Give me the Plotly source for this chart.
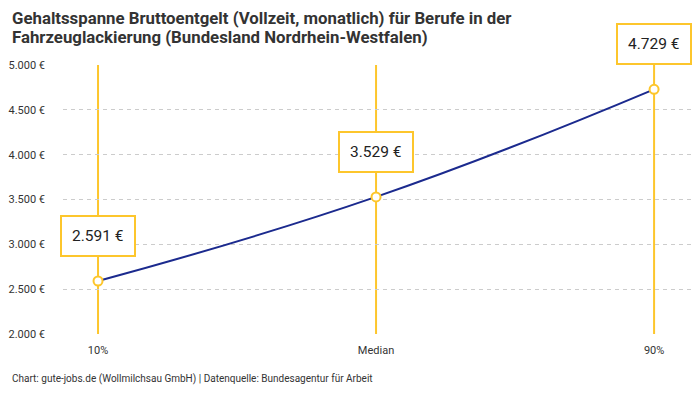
import plotly.graph_objects as go

# Daten
kategorien = ["10%", "Median", "90%"]
gehalt = [2591, 3529, 4729]
beschriftung = ["2.591 €", "3.529 €", "4.729 €"]
y_ticks = [2000, 2500, 3000, 3500, 4000, 4500, 5000]
y_tick_text = ["2.000 €", "2.500 €", "3.000 €", "3.500 €", "4.000 €", "4.500 €", "5.000 €"]

titel_zeilen = ["Gehaltsspanne Bruttoentgelt (Vollzeit, monatlich) für Berufe in der",
                "Fahrzeuglackierung (Bundesland Nordrhein-Westfalen)"]
quelle = "Chart: gute-jobs.de (Wollmilchsau GmbH) | Datenquelle: Bundesagentur für Arbeit"

gelb = "#FDC62C"
blau = "#1B2A8E"
x_pos = list(range(len(kategorien)))

fig = go.Figure()

# senkrechte Linien je Kategorie
for x in x_pos:
    fig.add_shape(type="line", x0=x, x1=x, y0=2000, y1=5000, xref="x", yref="y",
                  line=dict(color=gelb, width=2), layer="below")

fig.add_trace(go.Scatter(
    x=x_pos, y=gehalt, mode="lines",
    line=dict(color=blau, width=2, shape="spline", smoothing=1.3),
    hoverinfo="skip", showlegend=False,
))
fig.add_trace(go.Scatter(
    x=x_pos, y=gehalt, mode="markers",
    marker=dict(size=9, color="white", line=dict(color=gelb, width=2)),
    showlegend=False,
))

# Wert-Boxen über den Punkten
for x, y, t in zip(x_pos, gehalt, beschriftung):
    fig.add_annotation(x=x, y=y, text=t, showarrow=False, yshift=45,
                       font=dict(family="Roboto", size=15.5, color="#222"),
                       bgcolor="white", bordercolor=gelb, borderwidth=2, borderpad=10)

# Titel zeilenweise, damit der Zeilenabstand enger wird
for i, zeile in enumerate(titel_zeilen):
    fig.add_annotation(x=0, y=1, xref="paper", yref="paper", xanchor="left", yanchor="top",
                       xshift=-53, yshift=59 - i * 19, showarrow=False, align="left",
                       text="<b>" + zeile + "</b>",
                       font=dict(family="Roboto", size=16.8, color="#333"))

fig.add_annotation(x=0, y=0, xref="paper", yref="paper", xanchor="left", yanchor="top",
                   xshift=-53, yshift=-37, showarrow=False, text=quelle,
                   font=dict(family="Roboto", size=10, color="#333"))

# Seite hat 8px Rand, daher etwas kleiner
fig.update_layout(
    width=692, height=392,
    margin=dict(l=55, r=7, t=57, b=66),
    paper_bgcolor="white", plot_bgcolor="white",
    xaxis=dict(range=[-0.126, 2.14], tickvals=x_pos, ticktext=kategorien,
               showgrid=False, zeroline=False, showline=False, ticks="",
               ticklabelstandoff=8, automargin=False,
               tickfont=dict(family="Roboto", size=11, color="#333")),
    yaxis=dict(range=[2000, 5000], tickvals=y_ticks, ticktext=y_tick_text,
               showgrid=True, gridcolor="#cccccc", griddash="4px,4px", zeroline=False,
               ticks="", ticklabelstandoff=17, automargin=False,
               tickfont=dict(family="Roboto", size=11, color="#333")),
)

fig.write_html("out.html")
